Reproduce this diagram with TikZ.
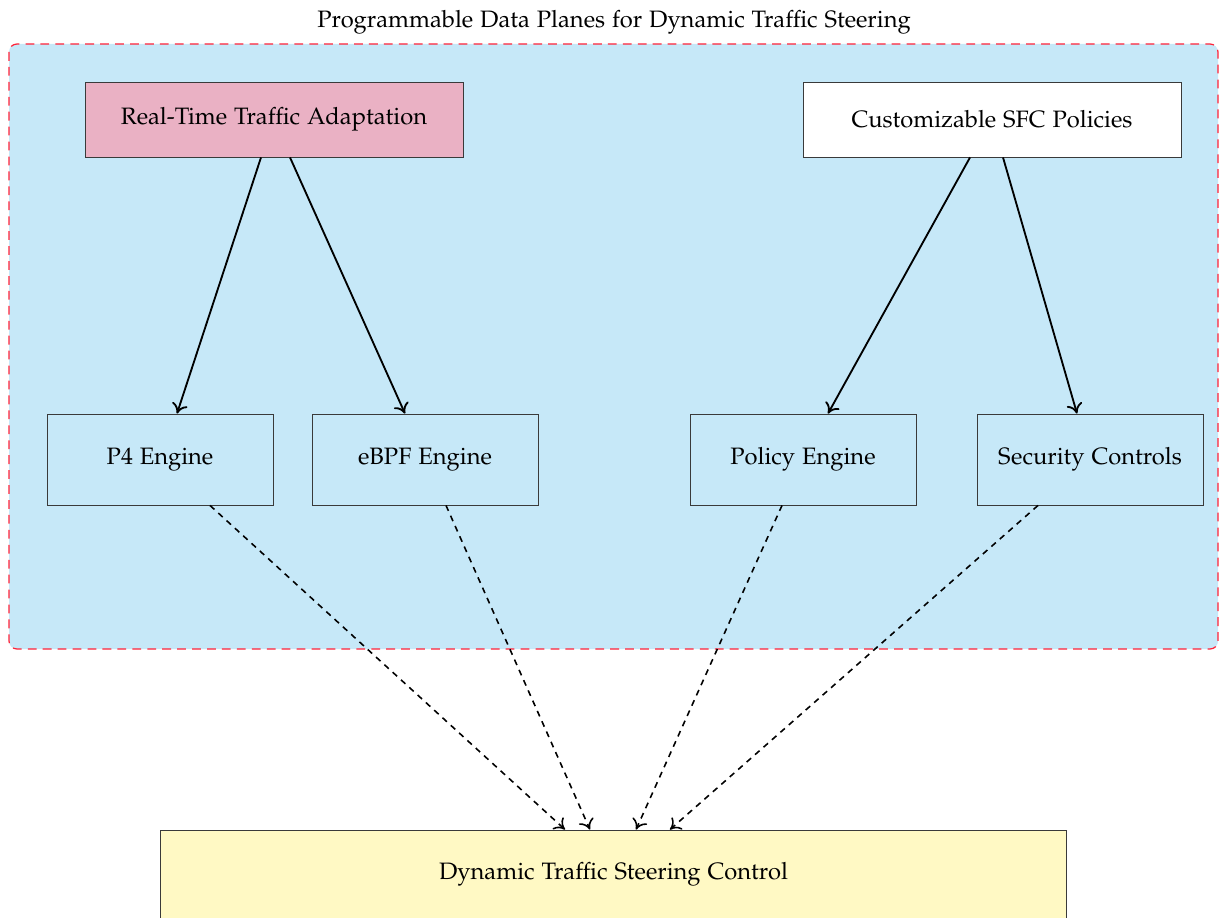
\documentclass[tikz,border=0pt]{standalone}
\usepackage[T1]{fontenc}
\usepackage[sc]{mathpazo}
\usetikzlibrary{arrows.meta}
\definecolor{panelblue}{HTML}{C6E8F8}
\definecolor{panelred}{HTML}{FF2238}
\definecolor{adaptpink}{HTML}{EAB1C4}
\definecolor{ctrlyellow}{HTML}{FFF9C4}
\definecolor{boxline}{HTML}{3A3A3A}
\tikzset{
  txt/.style={font=\fontsize{13.5}{16}\selectfont},
  box/.style={txt, draw=boxline, line width=0.5pt, rectangle, align=center},
  topbox/.style={box, minimum width=7.56cm, minimum height=1.5cm},
  enginebox/.style={box, fill=panelblue, minimum width=4.52cm, minimum height=1.82cm},
  tip/.style={-{Computer Modern Rightarrow[length=2mm, width=3.2mm]}},
  flow/.style={tip, line width=1.05pt},
  feed/.style={tip, line width=0.9pt, dash pattern=on 3.4pt off 3pt},
}
\begin{document}
\begin{tikzpicture}[x=0.02cm, y=-0.02cm]
  \useasboundingbox (0,0) rectangle (1219,918);
  % data-plane panel
  \draw[fill=panelblue, draw=panelred, dash pattern=on 5pt off 3.5pt, line width=0.7pt,
        rounded corners=0.16cm]
    (9,44) rectangle (1218,649);
  \node[txt] (title) at (614,22) {Programmable Data Planes for Dynamic Traffic Steering};

  % upper row
  \node[topbox, fill=adaptpink] (rt) at (274,119.5) {Real-Time Traffic Adaptation};
  \node[topbox, fill=white] (sfc) at (992,119.5) {Customizable SFC Policies};

  % engines
  \node[enginebox] (p4) at (160,459.5) {P4 Engine};
  \node[enginebox] (ebpf) at (425,459.5) {eBPF Engine};
  \node[enginebox] (pol) at (803,459.5) {Policy Engine};
  \node[enginebox] (sec) at (1090,459.5) {Security Controls};

  % steering control
  \node[box, fill=ctrlyellow, minimum width=18.14cm, minimum height=1.76cm] (ctrl) at (613.5,874)
    {Dynamic Traffic Steering Control};

  % solid links
  \draw[flow] ([xshift=-0.26cm]rt.south) -- ([xshift=0.34cm]p4.north);
  \draw[flow] ([xshift=0.32cm]rt.south) -- ([xshift=-0.4cm]ebpf.north);
  \draw[flow] ([xshift=-0.44cm]sfc.south) -- ([xshift=0.5cm]pol.north);
  \draw[flow] ([xshift=0.22cm]sfc.south) -- ([xshift=-0.26cm]sec.north);

  % dashed links
  \draw[feed] ([xshift=1cm]p4.south) -- ([xshift=-0.97cm]ctrl.north);
  \draw[feed] ([xshift=0.42cm]ebpf.south) -- ([xshift=-0.47cm]ctrl.north);
  \draw[feed] ([xshift=-0.42cm]pol.south) -- ([xshift=0.45cm]ctrl.north);
  \draw[feed] ([xshift=-1.04cm]sec.south) -- ([xshift=1.13cm]ctrl.north);
\end{tikzpicture}
\end{document}
